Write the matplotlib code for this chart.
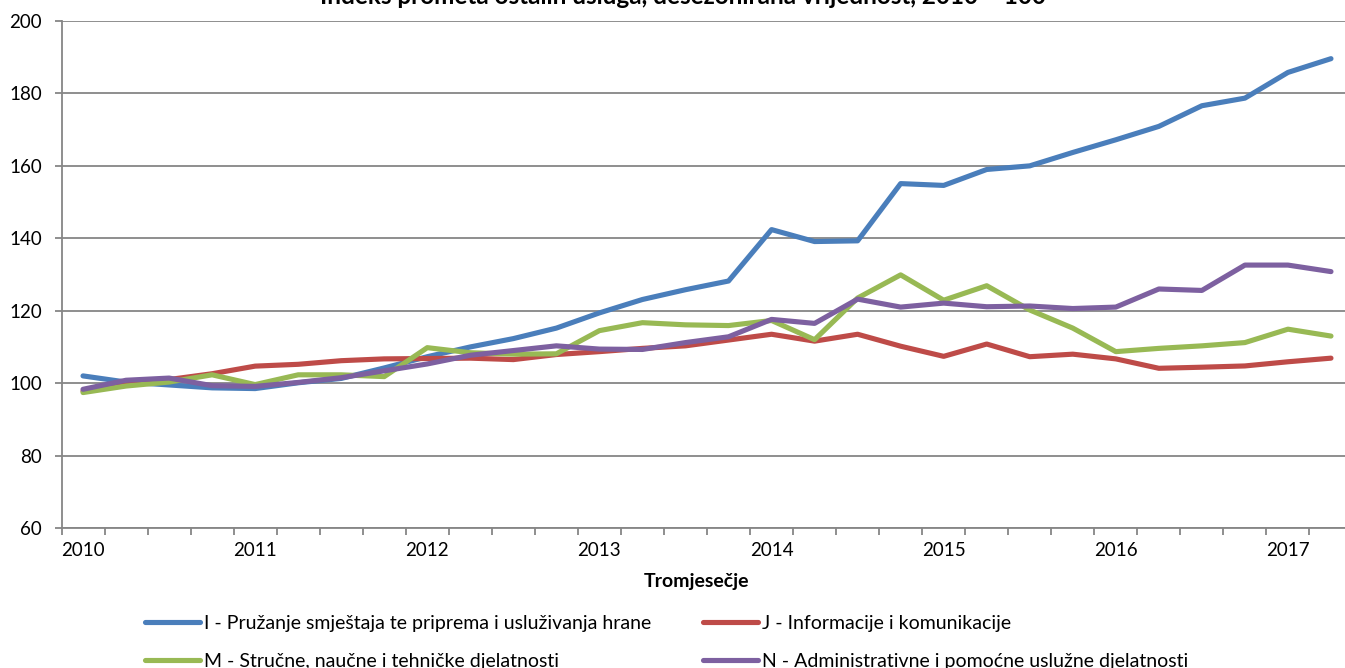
import matplotlib
matplotlib.use('Agg')
import matplotlib.pyplot as plt
import numpy as np

plt.rcParams['font.family'] = ['Lato', 'DejaVu Sans']

# kategorije (tromjesečja 2010 Q1 - 2017 Q2)
godine = ['2010', '2011', '2012', '2013', '2014', '2015', '2016', '2017']
kvartali = [g + ' Q' + str(q) for g in godine for q in (1, 2, 3, 4)][:30]

# serije
serija_I = [102.0, 100.3, 99.5, 98.7, 98.5, 100.1, 101.3, 104.2, 107.3, 110.0,
            112.3, 115.2, 119.4, 123.1, 125.8, 128.2, 142.4, 139.1, 139.3, 155.1,
            154.6, 159.0, 160.0, 163.7, 167.2, 170.9, 176.6, 178.7, 185.8, 189.6]
serija_J = [97.8, 99.5, 101.0, 102.6, 104.7, 105.2, 106.2, 106.7, 106.8, 106.9,
            106.5, 107.9, 108.7, 109.6, 110.3, 111.9, 113.5, 111.6, 113.5, 110.2,
            107.4, 110.8, 107.3, 108.0, 106.7, 104.1, 104.4, 104.75, 105.9, 106.9]
serija_M = [97.4, 99.2, 100.3, 102.3, 99.6, 102.3, 102.3, 101.8, 109.8, 108.4,
            108.0, 108.1, 114.5, 116.7, 116.1, 115.9, 117.3, 112.0, 123.5, 129.9,
            122.9, 126.9, 120.2, 115.2, 108.7, 109.6, 110.3, 111.2, 114.9, 113.0]
serija_N = [98.3, 100.8, 101.4, 99.3, 99.1, 100.2, 101.5, 103.4, 105.3, 107.7,
            109.0, 110.3, 109.4, 109.3, 111.2, 112.8, 117.6, 116.5, 123.2, 121.0,
            122.1, 121.1, 121.3, 120.6, 121.0, 126.0, 125.6, 132.6, 132.6, 130.8]

nazivi = ['I - Pružanje smještaja te priprema i usluživanja hrane',
          'J - Informacije i komunikacije',
          'M - Stručne, naučne i tehničke djelatnosti',
          'N - Administrativne i pomoćne uslužne djelatnosti']
boje = ['#4A7EBB', '#BE4B48', '#98B954', '#7D60A0']

W, H = 1345, 668
fig = plt.figure(figsize=(W / 100, H / 100), dpi=100)
ax = fig.add_axes([61.5 / W, 1 - 528 / H, 1291 / W, 507 / H])

x = np.arange(len(kvartali))
linije = []
for ser, boja, naziv in zip([serija_I, serija_J, serija_M, serija_N], boje, nazivi):
    l, = ax.plot(x, ser, color=boja, linewidth=3.7, solid_capstyle='round',
                 solid_joinstyle='round', label=naziv, zorder=3)
    linije.append(l)

siva = '#868686'
ax.set_ylim(60, 200)
ax.set_xlim(-0.5, len(kvartali) - 0.5)
ax.set_yticks(range(60, 201, 20))
ax.grid(axis='y', color=siva, linewidth=1.3)
ax.set_axisbelow(True)

# crtice između kategorija, oznake godina na prvom kvartalu
ax.set_xticks(np.arange(-0.5, len(kvartali), 1))
ax.set_xticklabels([])
ax.set_xticks(np.arange(0, len(kvartali), 4), minor=True)
ax.set_xticklabels(godine, minor=True)
ax.tick_params(axis='x', which='major', length=5, width=1.3, color=siva, direction='out')
ax.tick_params(axis='x', which='minor', length=0, pad=10, labelsize=13.5)
ax.tick_params(axis='y', length=5, width=1.3, color=siva, direction='out', pad=9, labelsize=13.5)

for s in ['top', 'right']:
    ax.spines[s].set_visible(False)
for s in ['left', 'bottom']:
    ax.spines[s].set_color(siva)
    ax.spines[s].set_linewidth(1.3)

ax.set_xlabel('Tromjesečje', fontweight='bold', fontsize=14)
ax.xaxis.set_label_coords(0.492, -0.088)

fig.text(683 / W, 1 - 3.5 / H, 'Indeks prometa ostalih usluga, desezonirana vrijednost, 2010 = 100',
         ha='center', va='baseline', fontweight='bold', fontsize=17.5)

# legenda u dva stupca
leg_kw = dict(loc='upper left', frameon=False, fontsize=14, handlelength=2.85,
              handletextpad=0.2, labelspacing=1.1)
fig.legend(handles=[linije[0], linije[2]], bbox_to_anchor=(127 / W, 1 - 597 / H), **leg_kw)
fig.legend(handles=[linije[1], linije[3]], bbox_to_anchor=(685 / W, 1 - 597 / H), **leg_kw)

fig.savefig('out.png', dpi=100)
